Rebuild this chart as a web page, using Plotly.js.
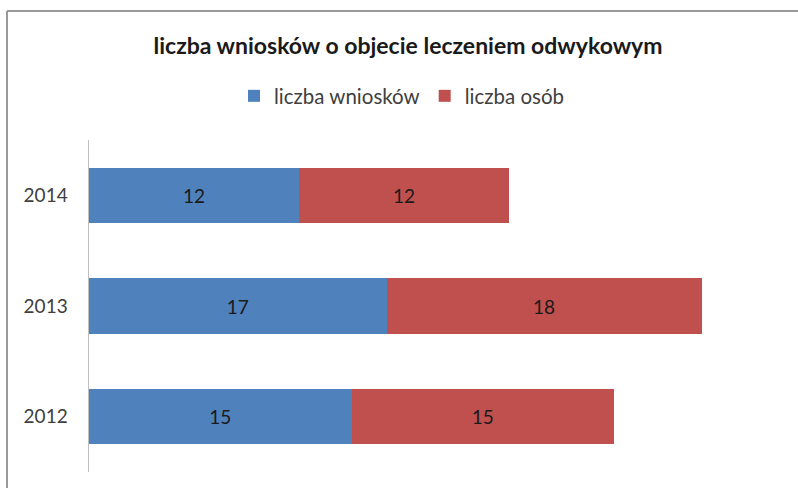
<!DOCTYPE html>
<html>
<head>
<meta charset="utf-8">
<script src="https://cdn.plot.ly/plotly-3.0.1.min.js"></script>
<style>
  html, body { margin: 0; padding: 0; background: #fff; }
  #chart { width: 798px; height: 488px; }
</style>
</head>
<body>
<div id="chart"></div>
<script>
const years = ['2012', '2013', '2014'];
const wnioski = [15, 17, 12];
const osoby = [15, 18, 12];
const seriesNames = ['liczba wniosków', 'liczba osób'];
const chartTitle = 'liczba wniosków o objecie leczeniem odwykowym';

const FONT = 'Lato, "Open Sans", sans-serif';

const traces = [
  {
    type: 'bar', orientation: 'h', name: seriesNames[0],
    y: years, x: wnioski,
    marker: { color: '#4F81BD' },
    text: wnioski.map(String), textposition: 'inside', insidetextanchor: 'middle',
    textfont: { family: FONT, size: 19, color: '#1a1a1a' },
    hoverinfo: 'x+y'
  },
  {
    type: 'bar', orientation: 'h', name: seriesNames[1],
    y: years, x: osoby,
    marker: { color: '#C0504D' },
    text: osoby.map(String), textposition: 'inside', insidetextanchor: 'middle',
    textfont: { family: FONT, size: 19, color: '#1a1a1a' },
    hoverinfo: 'x+y'
  }
];

const PX_L = 89, PX_W = 700, PX_B = 472, PX_H = 332;
const fx = px => (px - PX_L) / PX_W;
const fy = py => (PX_B - py) / PX_H;

const layout = {
  width: 798, height: 488,
  margin: { l: 89, r: 9, t: 140, b: 16 },
  paper_bgcolor: '#ffffff', plot_bgcolor: '#ffffff',
  barmode: 'stack', bargap: 0.5,
  font: { family: FONT, color: '#404040' },
  title: {
    text: chartTitle,
    font: { family: FONT, size: 23, color: '#1a1a1a', weight: 'bold' },
    x: 408 / 798, xanchor: 'center', xref: 'container',
    y: 1 - 46 / 488, yanchor: 'middle', yref: 'container'
  },
  showlegend: true,
  legend: {
    orientation: 'h', x: fx(402), xanchor: 'center', y: fy(96), yanchor: 'middle',
    font: { family: FONT, size: 20.5, color: '#404040' },
    bgcolor: 'rgba(0,0,0,0)',
    traceorder: 'normal'
  },
  xaxis: {
    range: [0, 40], showgrid: false, zeroline: false, showline: false,
    showticklabels: false, ticks: '', fixedrange: true
  },
  yaxis: {
    type: 'category', showgrid: false, zeroline: false,
    showline: true, linecolor: '#bfbfbf', linewidth: 1.5,
    ticks: '', ticklabelstandoff: 16,
    tickfont: { family: FONT, size: 19, color: '#404040' },
    fixedrange: true
  },
  shapes: [
    {
      type: 'line', xref: 'paper', yref: 'paper',
      x0: fx(7), x1: fx(800), y0: fy(11), y1: fy(11),
      line: { color: '#9a9a9a', width: 2 }, layer: 'below'
    },
    {
      type: 'line', xref: 'paper', yref: 'paper',
      x0: fx(7), x1: fx(7), y0: fy(11), y1: fy(490),
      line: { color: '#9a9a9a', width: 2 }, layer: 'below'
    }
  ]
};

Plotly.newPlot('chart', traces, layout, { displayModeBar: false, staticPlot: true });
</script>
</body>
</html>
